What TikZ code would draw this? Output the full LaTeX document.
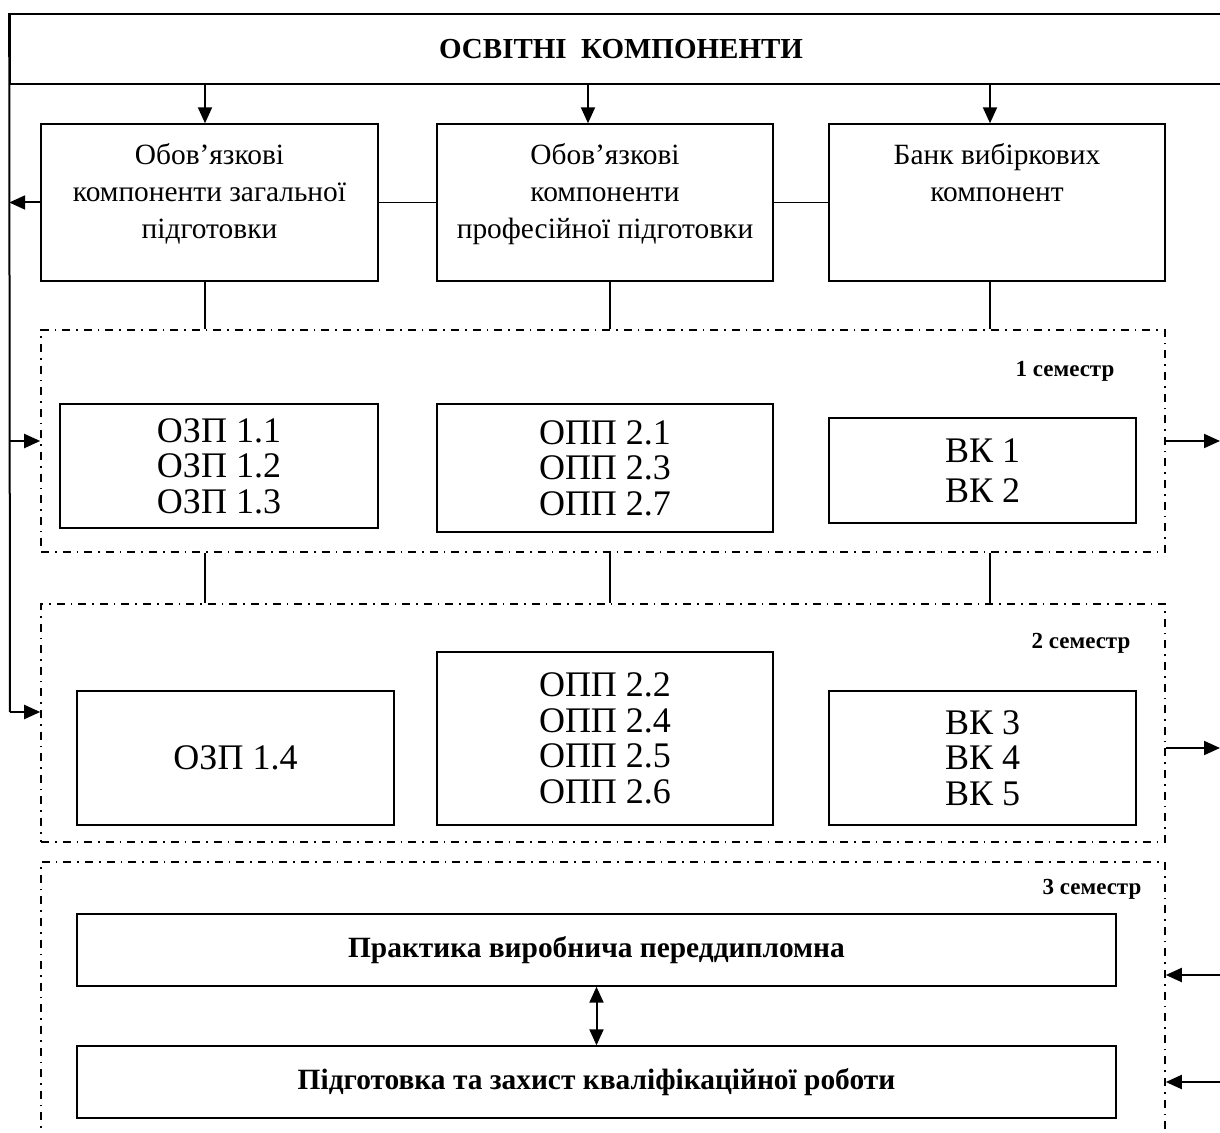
\documentclass[tikz,border=0pt]{standalone}
\usepackage{fontspec}
\setmainfont{Liberation Serif}
\usetikzlibrary{arrows.meta}

\begin{document}
\begin{tikzpicture}
  [x=0.5pt,y=-0.5pt,>={Triangle[length=8pt,width=7pt]},
   box/.style={draw,line width=0.7pt,align=center,inner sep=0pt,font=\fontsize{14.7}{18.5}\selectfont},
   list/.style={box,font=\fontsize{18}{17.8}\selectfont},
   wide/.style={box,minimum width=519.5pt,minimum height=36pt,font=\bfseries\fontsize{14.7}{17}\selectfont},
   sem/.style={draw,line width=0.8pt,inner sep=0pt,minimum width=562pt,dash pattern=on 4pt off 3pt on 0.8pt off 3pt},
   semlab/.style={font=\bfseries\fontsize{11.5}{14}\selectfont,inner sep=0pt},
   arr/.style={->,line width=1pt},
   link/.style={line width=0.6pt},]

\useasboundingbox (0,0) rectangle (1220,1133);

% columns
\coordinate (a1) at (205,0);
\coordinate (a2) at (588,0);
\coordinate (a3) at (990,0);
\coordinate (b2) at (610,0);

\node[draw,line width=0.8pt,minimum width=611pt,minimum height=35pt,inner sep=0pt,
  font=\bfseries\fontsize{14.5}{17}\selectfont] (title) at (621,49) {ОСВІТНІ\ \ КОМПОНЕНТИ};

\node[box,minimum width=168.5pt,minimum height=78.5pt,text depth=12pt] (obzag) at (209.5,202.5)
  {Обов’язкові\\компоненти загальної\\підготовки};
\node[box,minimum width=168pt,minimum height=78.5pt,text depth=12pt] (obprof) at (605,202.5)
  {Обов’язкові\\компоненти\\професійної підготовки};
\node[box,minimum width=168pt,minimum height=78.5pt,text depth=30pt] (bank) at (997,202.5)
  {Банк вибіркових\\компонент};

% semester frames
\node[sem,minimum height=111pt] (sem1) at (603,441) {};
\node[sem,minimum height=119pt] (sem2) at (603,723) {};
\node[sem,minimum height=144pt] (sem3) at (603,1006) {};
\node[semlab] (lab1) at (1065,371) {1 семестр};
\node[semlab] (lab2) at (1081,643) {2 семестр};
\node[semlab] (lab3) at (1092,889) {3 семестр};

\node[list,minimum width=159pt,minimum height=62pt] (ozp1) at (219,466)
  {ОЗП 1.1\\ОЗП 1.2\\ОЗП 1.3};
\node[list,minimum width=168pt,minimum height=64pt] (opp1) at (605,468)
  {ОПП 2.1\\ОПП 2.3\\ОПП 2.7};
\node[list,minimum width=153.5pt,minimum height=52.5pt,font=\fontsize{18}{20}\selectfont] (vk1) at (982.5,470.5)
  {ВК 1\\ВК 2};

\node[list,minimum width=158.5pt,minimum height=67pt] (ozp2) at (235.5,758) {ОЗП 1.4};
\node[list,minimum width=168pt,minimum height=86.5pt] (opp2) at (605,738.5)
  {ОПП 2.2\\ОПП 2.4\\ОПП 2.5\\ОПП 2.6};
\node[list,minimum width=153.5pt,minimum height=67pt] (vk2) at (982.5,758)
  {ВК 3\\ВК 4\\ВК 5};

\node[wide] (prak) at (596.5,950) {Практика виробнича переддипломна};
\node[wide] (pidg) at (596.5,1082) {Підготовка та захист кваліфікаційної роботи};

% side ends
\coordinate (l2) at (10,712);
\coordinate (r1) at (1220,441);
\coordinate (r2) at (1220,748);
\coordinate (r3) at (1220,975);
\coordinate (r4) at (1220,1082);

\foreach \c/\n in {a1/obzag,a2/obprof,a3/bank}
\draw[arr] (title.south -| \c) -- (\n.north -| \c);

\draw[link] (obzag) -- (obprof) -- (bank);
\foreach \c/\n in {a1/obzag,b2/obprof,a3/bank}
{\draw[link] (\n.south -| \c) -- (sem1.north -| \c);
 \draw[link] (sem1.south -| \c) -- (sem2.north -| \c);}

\draw[line width=1pt] (title.north west) -- (l2);
\draw[arr] (obzag.west) -- (obzag.west -| title.west);
\draw[arr] (sem1.west -| title.west) -- (sem1.west);
\draw[arr] (l2) -- (l2 -| sem2.west);

\draw[arr] (sem1.east) -- (r1);
\draw[arr] (r2 -| sem2.east) -- (r2);
\draw[arr] (r3) -- (r3 -| sem3.east);
\draw[arr] (r4) -- (r4 -| sem3.east);

\draw[arr,<->] (prak) -- (pidg);

\end{tikzpicture}
\end{document}
